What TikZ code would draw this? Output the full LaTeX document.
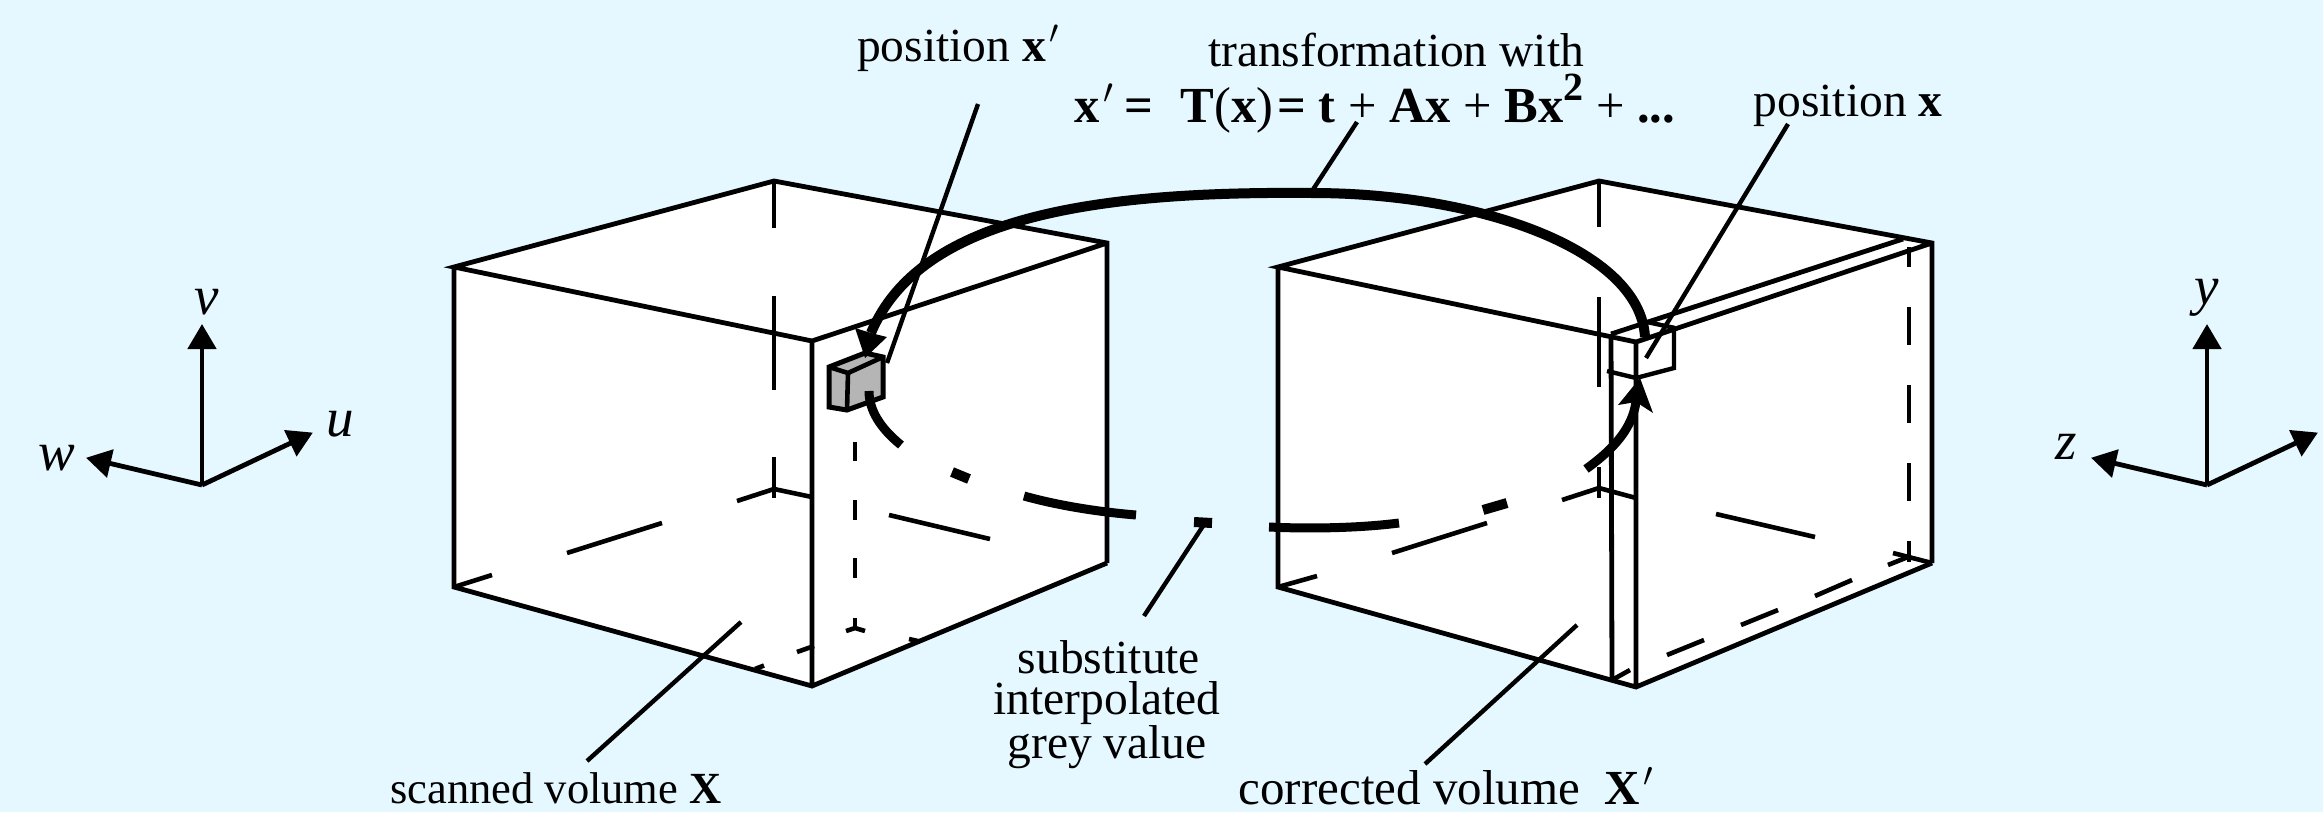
\RequirePackage{fix-cm}
\documentclass[tikz,border=0pt]{standalone}
\usepackage{fontspec}
\setmainfont{Liberation Serif}
\usetikzlibrary{arrows.meta}
\definecolor{bgcyan}{HTML}{E5F8FF}
\definecolor{boxgrey}{gray}{0.71}
\tikzset{
  edge/.style={line width=4.8pt,line cap=butt,line join=miter},
  hid/.style={line width=4.6pt,line cap=butt},
  leader/.style={line width=4.4pt,line cap=butt},
  thickarc/.style={line width=9pt,line cap=butt},
  axis/.style={line width=4.8pt,-{Triangle[length=25pt,width=28pt]},shorten >=-1pt},
  lbl/.style={inner sep=0pt,anchor=base,font=\fontsize{47.5}{52}\selectfont},
  axl/.style={inner sep=0pt,anchor=center,font=\fontsize{55}{58}\selectfont\itshape},
}
\newcommand{\pr}{\hspace{.07em}$'$}
\begin{document}
\begin{tikzpicture}[x=1pt,y=-1pt]
\useasboundingbox (0,0) rectangle (2323,812);
\fill[bgcyan] (0,0) rectangle (2323,812);

% ---------- left cube
\coordinate (ltb) at (774,181);
\coordinate (ltl) at (454,267);
\coordinate (ltf) at (812,341);
\coordinate (ltr) at (1107,243);
\coordinate (lbl) at (454,587);
\coordinate (lbf) at (812,686);
\coordinate (lbr) at (1107,563);
\fill[white] (ltl)--(ltb)--(ltr)--(lbr)--(lbf)--(lbl)--cycle;
% hidden edges
\draw[hid] (774,181)--(774,228) (774,296)--(774,390) (774,457)--(774,498);
\draw[hid] (812,497)--(774,489)--(737,501) (662,523)--(567,553) (492,575)--(lbl);
\draw[hid] (889,515)--(990,539);
\draw[hid] (855,442)--(855,461) (855,500)--(855,520) (855,558)--(855,578) (855,618)--(855,629);
\draw[hid] (846,631)--(855,628)--(865,631);
\draw[hid] (797,652)--(814,646) (755,669)--(764,665.5) (909,639)--(920,641.5);
\draw[edge] (lbr)--(ltr)--(ltb)--(ltl)--(ltf)--(ltr) (ltf)--(lbf) (ltl)--(lbl)--(lbf)--(lbr);

% ---------- right cube
\coordinate (rtb) at (1599,181);
\coordinate (rtl) at (1278,267);
\coordinate (rtm) at (1611,334);
\coordinate (rtf) at (1636,342);
\coordinate (rtr) at (1932,243);
\coordinate (rtn) at (1903,239);
\coordinate (rbl) at (1278,587);
\coordinate (rbm) at (1612,680);
\coordinate (rbf) at (1636,687);
\coordinate (rbr) at (1932,563);
\fill[white] (rtl)--(rtb)--(rtr)--(rbr)--(rbf)--(rbl)--cycle;
\draw[hid] (1599,181)--(1599,227) (1599,297)--(1599,387) (1599,467)--(1599,498);
\draw[hid] (1636,498)--(1599,488)--(1562,500) (1487,523)--(1392,553) (1317,576)--(rbl);
\draw[hid] (1716,514)--(1815,537) (1893,553)--(rbr);
\draw[hid] (1909,247)--(1909,267) (1909,307)--(1909,345) (1909,385)--(1909,423) (1909,463)--(1909,501) (1909,541)--(1909,562);
\draw[hid] (1888,565)--(1908,557) (1815,596)--(1852,580) (1741,625)--(1778,610) (1667,655)--(1704,640) (rbm)--(1630,670);
\draw[edge] (rbr)--(rtr)--(rtb)--(rtl)--(rtf)--(rtr) (rtf)--(rbf) (rtl)--(rbl)--(rbf)--(rbr);
\draw[edge] (rtm)--(rtn) (rtm)--(rbm);

% outline box in right cube
\draw[edge,line width=4.4pt] (1674,327)--(1674,368)--(1636,378)--(1607,371);
\draw[edge,line width=4.4pt] (1647,322)--(1675,328);

% ---------- small grey box
\coordinate (b1) at (829,367);
\coordinate (b2) at (848,373);
\coordinate (b3) at (883,357);
\coordinate (b4) at (865,353);
\coordinate (b5) at (829,407);
\coordinate (b6) at (847,410);
\coordinate (b7) at (883,397);
\filldraw[fill=boxgrey,draw=black,line width=5pt,line join=miter] (b1)--(b4)--(b3)--(b7)--(b6)--(b5)--cycle;
\draw[line width=4.6pt] (b1)--(b2)--(b3) (b2)--(b6);

% ---------- transformation arc
\coordinate (arcend) at (1645,337);
\coordinate (arctop) at (1312,193);
\coordinate (arcnotch) at (871,333);
\coordinate (ltip) at (865,358);
\draw[thickarc,line width=10pt] (arcend) .. controls (1640,250) and (1480,193) .. (arctop)
      .. controls (1100,191) and (920,215) .. (arcnotch);
\fill (855,328)--(ltip)--(887,337)--(arcnotch)--cycle;

% ---------- substitute arc, broken
\draw[thickarc] (869,391) .. controls (869,410) and (880,428) .. (901,445);
\draw[thickarc,line width=10pt] (952,472)--(969,479);
\draw[thickarc] (1024,496) .. controls (1060,506) and (1100,512) .. (1136,515);
\coordinate (subdashl) at (1194,522);
\coordinate (subdashr) at (1212,523);
\draw[thickarc,line width=10pt] (subdashl)--(subdashr);
\draw[thickarc] (1269,527) .. controls (1310,529) and (1360,528) .. (1399,523);
\draw[thickarc,line width=10pt] (1483,510)--(1507,503);
\coordinate (rtip) at (1640,378);
\coordinate (rnotch) at (1636,402);
\draw[thickarc] (1586,469) .. controls (1615,448) and (1632,428) .. (rnotch);
\fill (rtip)--(1653,413)--(rnotch)--(1618,405)--cycle;

% ---------- labels
\node[lbl] (posxp) at (958,61) {position \textbf{x}\pr};
\node[lbl] (trans) at (1396,66) {transformation with};
\node[lbl,font=\fontsize{50.5}{56}\selectfont] (eqn) at (1375,122) {\textbf{x}\pr\hspace{.2em}\textbf{=}\hspace{.55em}\textbf{T}(\textbf{x})\hspace{.08em}\textbf{=} \textbf{t} + \textbf{Ax} + \textbf{Bx}\raisebox{.42em}{\fontsize{40}{40}\selectfont\textbf{2}} + \textbf{...}};
\node[lbl] (posx) at (1848,116) {position \textbf{x}};
\node[lbl] (sub1) at (1109,673) {substitute};
\node[lbl] (sub2) at (1107,714) {interpolated};
\node[lbl] (sub3) at (1107,758) {grey value};
\node[lbl,font=\fontsize{44.5}{48}\selectfont] (scan) at (556,803) {scanned volume \textbf{X}};
\node[lbl,font=\fontsize{49}{52}\selectfont] (corr) at (1446,804) {corrected volume\hspace{.25em} \textbf{X}\pr};

% ---------- leaders
\coordinate (l1a) at (978,104); \coordinate (l1b) at (887,363);
\coordinate (l2a) at (1357,122); \coordinate (l2b) at (1312,191);
\coordinate (l3a) at (1788,124); \coordinate (l3b) at (1646,358);
\coordinate (l4a) at (1203,526); \coordinate (l4b) at (1144,616);
\coordinate (l5a) at (741,622); \coordinate (l5b) at (587,761);
\coordinate (l6a) at (1577,625); \coordinate (l6b) at (1425,764);
\draw[leader] (l1a)--(l1b);
\draw[leader] (l2a)--(l2b);
\draw[leader] (l3a)--(l3b);
\draw[leader] (l4a)--(l4b);
\draw[leader] (l5a)--(l5b);
\draw[leader] (l6a)--(l6b);

% ---------- axes
\coordinate (o1) at (202,485);
\coordinate (o2) at (2207,485);
\draw[axis] (o1)--(202,325);
\draw[axis] (o1)--(87,458);
\draw[axis] (o1)--(312,433);
\node[axl] (v) at (207,302) {v};
\node[axl] (w) at (57,458) {w};
\node[axl] (u) at (340,424) {u};
\draw[axis] (o2)--(2207,325);
\draw[axis] (o2)--(2092,458);
\draw[axis] (o2)--(2317,433);
\node[axl] (y) at (2207,298) {y};
\node[axl] (z) at (2066,447) {z};
\end{tikzpicture}
\end{document}
